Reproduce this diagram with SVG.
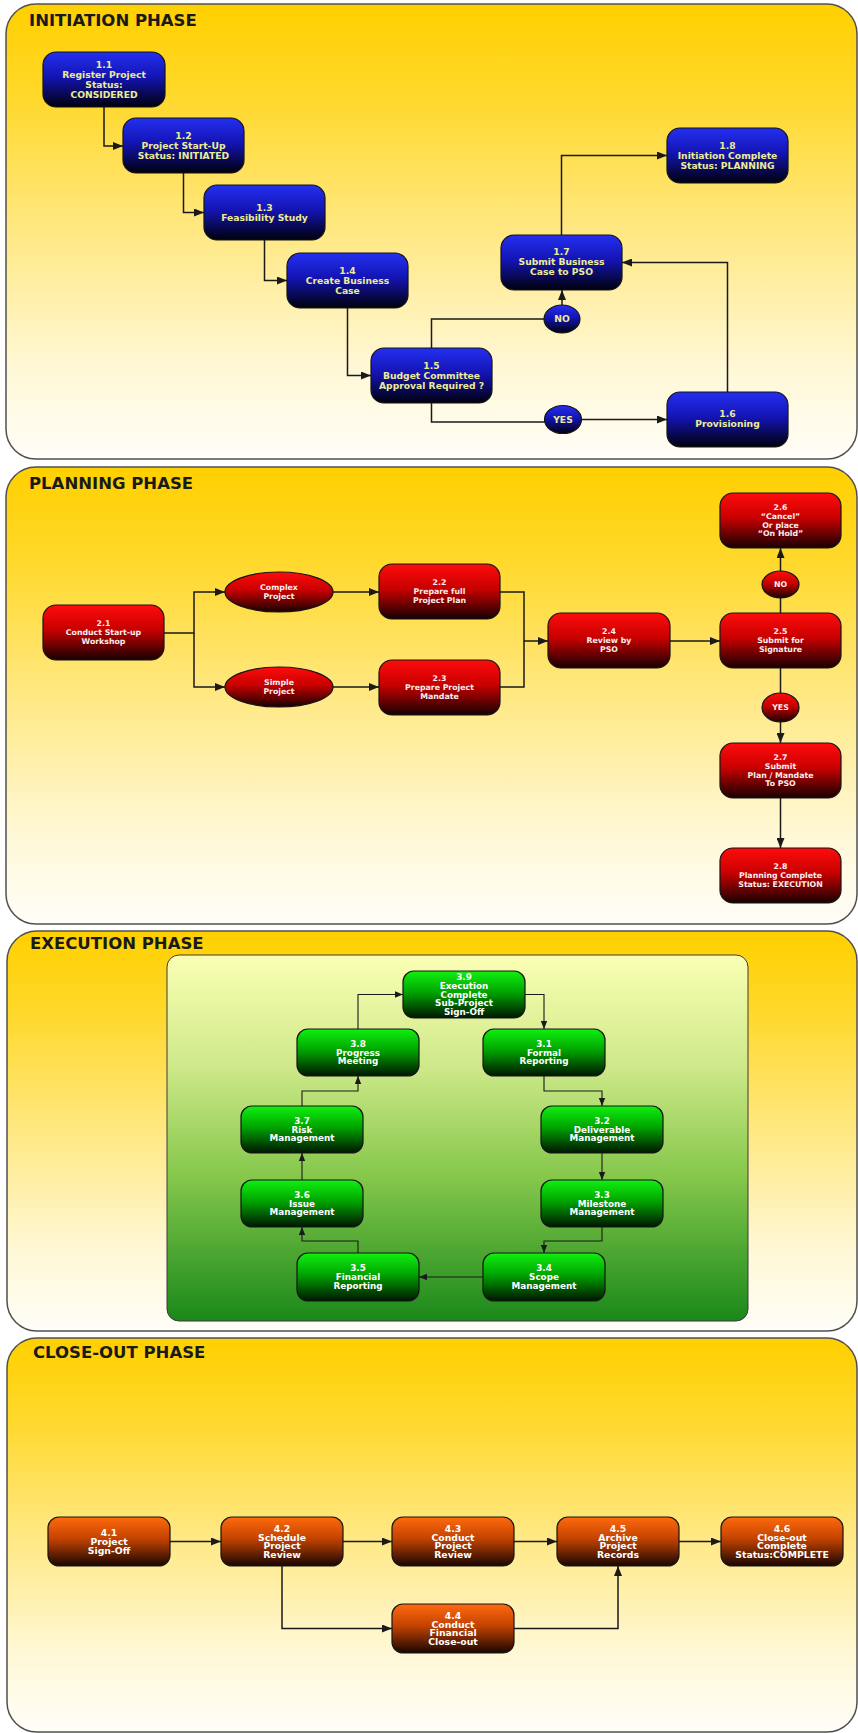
<svg xmlns="http://www.w3.org/2000/svg" width="858" height="1733" viewBox="0 0 858 1733">
<style>
.panel{stroke:#505050;stroke-width:1.5;fill:url(#gPanel)}
.title{font-family:"DejaVu Sans",sans-serif;font-weight:bold;font-size:16.5px;fill:#1a1a1a}
.nb{fill:url(#gBlue);stroke:#151515;stroke-width:1.2}
.nr{fill:url(#gRed);stroke:#151515;stroke-width:1.2}
.ng{fill:url(#gGreen);stroke:#151515;stroke-width:1.2}
.no{fill:url(#gOrange);stroke:#151515;stroke-width:1.2}
.t{font-family:"DejaVu Sans",sans-serif;font-weight:bold;text-anchor:middle}
.tb{font-size:9.2px;fill:#ecec98}
.tr{font-size:7.8px;fill:#fbeeee}
.tg{font-size:8.8px;fill:#ffffff}
.to{font-size:9.3px;fill:#ffffff}
.c{fill:none;stroke:#1a1a1a;stroke-width:1.5}
.cs{fill:none;stroke:#1a1a1a;stroke-width:1.1}
.a{marker-end:url(#ah)}
.as{marker-end:url(#ahs)}
</style>
<defs>
<linearGradient id="gPanel" x1="0" y1="0" x2="0" y2="1">
<stop offset="0" stop-color="#ffd000"/>
<stop offset="0.2" stop-color="#ffd82a"/>
<stop offset="0.5" stop-color="#ffe883"/>
<stop offset="0.8" stop-color="#fff8d6"/>
<stop offset="1" stop-color="#fffef8"/>
</linearGradient>
<linearGradient id="gInner" x1="0" y1="0" x2="0" y2="1">
<stop offset="0" stop-color="#fbffb4"/>
<stop offset="0.3" stop-color="#cfe98a"/>
<stop offset="0.6" stop-color="#86c84c"/>
<stop offset="1" stop-color="#1a881a"/>
</linearGradient>
<linearGradient id="gBlue" x1="0" y1="0" x2="0" y2="1">
<stop offset="0" stop-color="#2430f0"/>
<stop offset="0.45" stop-color="#1414b4"/>
<stop offset="1" stop-color="#00000c"/>
</linearGradient>
<linearGradient id="gRed" x1="0" y1="0" x2="0" y2="1">
<stop offset="0" stop-color="#ff0c0c"/>
<stop offset="0.45" stop-color="#c80000"/>
<stop offset="1" stop-color="#180000"/>
</linearGradient>
<linearGradient id="gGreen" x1="0" y1="0" x2="0" y2="1">
<stop offset="0" stop-color="#10f010"/>
<stop offset="0.45" stop-color="#00a400"/>
<stop offset="1" stop-color="#001600"/>
</linearGradient>
<linearGradient id="gOrange" x1="0" y1="0" x2="0" y2="1">
<stop offset="0" stop-color="#ff6a0e"/>
<stop offset="0.45" stop-color="#c24200"/>
<stop offset="1" stop-color="#180600"/>
</linearGradient>
<marker id="ah" viewBox="0 0 10 8" refX="10" refY="4" markerWidth="11" markerHeight="8" orient="auto" markerUnits="userSpaceOnUse"><path d="M0,0 L10,4 L0,8 z" fill="#1a1a1a"/></marker>
<marker id="ahs" viewBox="0 0 10 8" refX="10" refY="4" markerWidth="8" markerHeight="7" orient="auto" markerUnits="userSpaceOnUse"><path d="M0,0 L10,4 L0,8 z" fill="#1a1a1a"/></marker>
</defs>

<g id="panels">
<rect id="panel-initiation" class="panel" x="6" y="4" width="851" height="455" rx="30"/>
<rect id="panel-planning" class="panel" x="6" y="467" width="851" height="457" rx="30"/>
<rect id="panel-execution" class="panel" x="7" y="931" width="850" height="400" rx="30"/>
<rect id="panel-closeout" class="panel" x="7" y="1338" width="850" height="394" rx="30"/>
<rect id="execution-inner" x="167" y="955" width="581" height="366" rx="12" fill="url(#gInner)" stroke="#3a3a3a" stroke-width="1"/>
<text class="title" x="29" y="26">INITIATION PHASE</text>
<text class="title" x="29" y="489">PLANNING PHASE</text>
<text class="title" x="30" y="949">EXECUTION PHASE</text>
<text class="title" x="33" y="1358">CLOSE-OUT PHASE</text>
</g>

<g id="connectors">
<path class="c a" d="M104,107 V146 H123"/>
<path class="c a" d="M183.5,173 V212.5 H204"/>
<path class="c a" d="M264.5,240 V280.5 H287"/>
<path class="c a" d="M347.5,308 V375.5 H371"/>
<path class="c" d="M431.5,348 V319 H544"/>
<path class="c a" d="M562,305 V290"/>
<path class="c" d="M431.5,403 V422 H545"/>
<path class="c a" d="M581.5,419.5 H667"/>
<path class="c a" d="M727.5,392 V262.5 H622"/>
<path class="c a" d="M561.5,235 V155.5 H667"/>

<path class="c a" d="M164,633 H194 V592 H225"/>
<path class="c a" d="M194,633 V687 H225"/>
<path class="c a" d="M333,592 H379"/>
<path class="c a" d="M333,687 H379"/>
<path class="c a" d="M500,592 H524 V641 H548"/>
<path class="c" d="M500,687 H524 V641"/>
<path class="c a" d="M670,641 H720"/>
<path class="c" d="M780.5,613 V598"/>
<path class="c a" d="M780.5,571 V548"/>
<path class="c" d="M780.5,668 V693"/>
<path class="c a" d="M780.5,722 V743"/>
<path class="c a" d="M780.5,798 V848"/>

<path class="cs as" d="M358,1029 V994.5 H403"/>
<path class="cs as" d="M525,994.5 H544 V1029"/>
<path class="cs as" d="M544,1076 V1091 H602 V1106"/>
<path class="cs as" d="M602,1153 V1180"/>
<path class="cs as" d="M602,1227 V1241 H544 V1253"/>
<path class="cs as" d="M483,1277 H419"/>
<path class="cs as" d="M358,1253 V1241 H302 V1227"/>
<path class="cs as" d="M302,1180 V1153"/>
<path class="cs as" d="M302,1106 V1091 H358 V1076"/>

<path class="c a" d="M170,1541.5 H221"/>
<path class="c a" d="M343,1541.5 H392"/>
<path class="c a" d="M514,1541.5 H557"/>
<path class="c a" d="M679,1541.5 H721"/>
<path class="c a" d="M282,1566 V1628.5 H392"/>
<path class="c a" d="M514,1628.5 H618 V1566"/>
</g>

<g id="n1-1"><rect class="nb" x="43" y="52" width="122" height="55" rx="13"/>
<text class="t tb"><tspan x="104" y="67.7">1.1</tspan><tspan x="104" y="77.7">Register Project</tspan><tspan x="104" y="87.7">Status:</tspan><tspan x="104" y="97.7">CONSIDERED</tspan></text></g>
<g id="n1-2"><rect class="nb" x="123" y="118" width="121" height="55" rx="13"/>
<text class="t tb"><tspan x="183.5" y="138.7">1.2</tspan><tspan x="183.5" y="148.7">Project Start-Up</tspan><tspan x="183.5" y="158.7">Status: INITIATED</tspan></text></g>
<g id="n1-3"><rect class="nb" x="204" y="185" width="121" height="55" rx="13"/>
<text class="t tb"><tspan x="264.5" y="210.7">1.3</tspan><tspan x="264.5" y="220.7">Feasibility Study</tspan></text></g>
<g id="n1-4"><rect class="nb" x="287" y="253" width="121" height="55" rx="13"/>
<text class="t tb"><tspan x="347.5" y="273.7">1.4</tspan><tspan x="347.5" y="283.7">Create Business</tspan><tspan x="347.5" y="293.7">Case</tspan></text></g>
<g id="n1-5"><rect class="nb" x="371" y="348" width="121" height="55" rx="13"/>
<text class="t tb"><tspan x="431.5" y="368.7">1.5</tspan><tspan x="431.5" y="378.7">Budget Committee</tspan><tspan x="431.5" y="388.7">Approval Required ?</tspan></text></g>
<g id="n1-no"><ellipse class="nb" cx="562" cy="319" rx="18" ry="14"/>
<text class="t tb" x="562" y="322.3">NO</text></g>
<g id="n1-yes"><ellipse class="nb" cx="563" cy="419.5" rx="18.5" ry="14"/>
<text class="t tb" x="563" y="422.7">YES</text></g>
<g id="n1-6"><rect class="nb" x="667" y="392" width="121" height="55" rx="13"/>
<text class="t tb"><tspan x="727.5" y="417.2">1.6</tspan><tspan x="727.5" y="427.2">Provisioning</tspan></text></g>
<g id="n1-7"><rect class="nb" x="501" y="235" width="121" height="55" rx="13"/>
<text class="t tb"><tspan x="561.5" y="255.2">1.7</tspan><tspan x="561.5" y="265.2">Submit Business</tspan><tspan x="561.5" y="275.2">Case to PSO</tspan></text></g>
<g id="n1-8"><rect class="nb" x="667" y="128" width="121" height="55" rx="13"/>
<text class="t tb"><tspan x="727.5" y="148.7">1.8</tspan><tspan x="727.5" y="158.7">Initiation Complete</tspan><tspan x="727.5" y="168.7">Status: PLANNING</tspan></text></g>

<g id="n2-1"><rect class="nr" x="43" y="605" width="121" height="55" rx="13"/>
<text class="t tr"><tspan x="103.5" y="626.4">2.1</tspan><tspan x="103.5" y="635.2">Conduct Start-up</tspan><tspan x="103.5" y="644">Workshop</tspan></text></g>
<g id="n2-complex"><ellipse class="nr" cx="279" cy="592" rx="54" ry="20"/>
<text class="t tr"><tspan x="279" y="590.3">Complex</tspan><tspan x="279" y="599.1">Project</tspan></text></g>
<g id="n2-simple"><ellipse class="nr" cx="279" cy="687" rx="54" ry="20"/>
<text class="t tr"><tspan x="279" y="685.3">Simple</tspan><tspan x="279" y="694.1">Project</tspan></text></g>
<g id="n2-2"><rect class="nr" x="379" y="564" width="121" height="55" rx="13"/>
<text class="t tr"><tspan x="439.5" y="585.4">2.2</tspan><tspan x="439.5" y="594.2">Prepare full</tspan><tspan x="439.5" y="603">Project Plan</tspan></text></g>
<g id="n2-3"><rect class="nr" x="379" y="660" width="121" height="55" rx="13"/>
<text class="t tr"><tspan x="439.5" y="681.4">2.3</tspan><tspan x="439.5" y="690.2">Prepare Project</tspan><tspan x="439.5" y="699">Mandate</tspan></text></g>
<g id="n2-4"><rect class="nr" x="548" y="613" width="122" height="55" rx="13"/>
<text class="t tr"><tspan x="609" y="634.4">2.4</tspan><tspan x="609" y="643.2">Review by</tspan><tspan x="609" y="652">PSO</tspan></text></g>
<g id="n2-5"><rect class="nr" x="720" y="613" width="121" height="55" rx="13"/>
<text class="t tr"><tspan x="780.5" y="634.4">2.5</tspan><tspan x="780.5" y="643.2">Submit for</tspan><tspan x="780.5" y="652">Signature</tspan></text></g>
<g id="n2-no"><ellipse class="nr" cx="780.5" cy="584.5" rx="18.5" ry="13.5"/>
<text class="t tr" x="780.5" y="587.2">NO</text></g>
<g id="n2-6"><rect class="nr" x="720" y="493" width="121" height="55" rx="13"/>
<text class="t tr"><tspan x="780.5" y="510">2.6</tspan><tspan x="780.5" y="518.8">“Cancel”</tspan><tspan x="780.5" y="527.6">Or place</tspan><tspan x="780.5" y="536.4">“On Hold”</tspan></text></g>
<g id="n2-yes"><ellipse class="nr" cx="780.5" cy="707.5" rx="18.5" ry="14.5"/>
<text class="t tr" x="780.5" y="710.2">YES</text></g>
<g id="n2-7"><rect class="nr" x="720" y="743" width="121" height="55" rx="13"/>
<text class="t tr"><tspan x="780.5" y="760">2.7</tspan><tspan x="780.5" y="768.8">Submit</tspan><tspan x="780.5" y="777.6">Plan / Mandate</tspan><tspan x="780.5" y="786.4">To PSO</tspan></text></g>
<g id="n2-8"><rect class="nr" x="720" y="848" width="121" height="55" rx="13"/>
<text class="t tr"><tspan x="780.5" y="869.4">2.8</tspan><tspan x="780.5" y="878.2">Planning Complete</tspan><tspan x="780.5" y="887">Status: EXECUTION</tspan></text></g>

<g id="n3-9"><rect class="ng" x="403" y="971" width="122" height="47" rx="11"/>
<text class="t tg"><tspan x="464" y="980.2">3.9</tspan><tspan x="464" y="988.9">Execution</tspan><tspan x="464" y="997.6">Complete</tspan><tspan x="464" y="1006.3">Sub-Project</tspan><tspan x="464" y="1015">Sign-Off</tspan></text></g>
<g id="n3-8"><rect class="ng" x="297" y="1029" width="122" height="47" rx="11"/>
<text class="t tg"><tspan x="358" y="1046.9">3.8</tspan><tspan x="358" y="1055.6">Progress</tspan><tspan x="358" y="1064.3">Meeting</tspan></text></g>
<g id="n3-1"><rect class="ng" x="483" y="1029" width="122" height="47" rx="11"/>
<text class="t tg"><tspan x="544" y="1046.9">3.1</tspan><tspan x="544" y="1055.6">Formal</tspan><tspan x="544" y="1064.3">Reporting</tspan></text></g>
<g id="n3-7"><rect class="ng" x="241" y="1106" width="122" height="47" rx="11"/>
<text class="t tg"><tspan x="302" y="1123.9">3.7</tspan><tspan x="302" y="1132.6">Risk</tspan><tspan x="302" y="1141.3">Management</tspan></text></g>
<g id="n3-2"><rect class="ng" x="541" y="1106" width="122" height="47" rx="11"/>
<text class="t tg"><tspan x="602" y="1123.9">3.2</tspan><tspan x="602" y="1132.6">Deliverable</tspan><tspan x="602" y="1141.3">Management</tspan></text></g>
<g id="n3-6"><rect class="ng" x="241" y="1180" width="122" height="47" rx="11"/>
<text class="t tg"><tspan x="302" y="1197.9">3.6</tspan><tspan x="302" y="1206.6">Issue</tspan><tspan x="302" y="1215.3">Management</tspan></text></g>
<g id="n3-3"><rect class="ng" x="541" y="1180" width="122" height="47" rx="11"/>
<text class="t tg"><tspan x="602" y="1197.9">3.3</tspan><tspan x="602" y="1206.6">Milestone</tspan><tspan x="602" y="1215.3">Management</tspan></text></g>
<g id="n3-5"><rect class="ng" x="297" y="1253" width="122" height="48" rx="11"/>
<text class="t tg"><tspan x="358" y="1271.4">3.5</tspan><tspan x="358" y="1280.1">Financial</tspan><tspan x="358" y="1288.8">Reporting</tspan></text></g>
<g id="n3-4"><rect class="ng" x="483" y="1253" width="122" height="48" rx="11"/>
<text class="t tg"><tspan x="544" y="1271.4">3.4</tspan><tspan x="544" y="1280.1">Scope</tspan><tspan x="544" y="1288.8">Management</tspan></text></g>

<g id="n4-1"><rect class="no" x="48" y="1517" width="122" height="49" rx="11"/>
<text class="t to"><tspan x="109" y="1536.1">4.1</tspan><tspan x="109" y="1544.8">Project</tspan><tspan x="109" y="1553.5">Sign-Off</tspan></text></g>
<g id="n4-2"><rect class="no" x="221" y="1517" width="122" height="49" rx="11"/>
<text class="t to"><tspan x="282" y="1531.8">4.2</tspan><tspan x="282" y="1540.5">Schedule</tspan><tspan x="282" y="1549.2">Project</tspan><tspan x="282" y="1557.9">Review</tspan></text></g>
<g id="n4-3"><rect class="no" x="392" y="1517" width="122" height="49" rx="11"/>
<text class="t to"><tspan x="453" y="1531.8">4.3</tspan><tspan x="453" y="1540.5">Conduct</tspan><tspan x="453" y="1549.2">Project</tspan><tspan x="453" y="1557.9">Review</tspan></text></g>
<g id="n4-5"><rect class="no" x="557" y="1517" width="122" height="49" rx="11"/>
<text class="t to"><tspan x="618" y="1531.8">4.5</tspan><tspan x="618" y="1540.5">Archive</tspan><tspan x="618" y="1549.2">Project</tspan><tspan x="618" y="1557.9">Records</tspan></text></g>
<g id="n4-6"><rect class="no" x="721" y="1517" width="122" height="49" rx="11"/>
<text class="t to"><tspan x="782" y="1531.8">4.6</tspan><tspan x="782" y="1540.5">Close-out</tspan><tspan x="782" y="1549.2">Complete</tspan><tspan x="782" y="1557.9">Status:COMPLETE</tspan></text></g>
<g id="n4-4"><rect class="no" x="392" y="1604" width="122" height="49" rx="11"/>
<text class="t to"><tspan x="453" y="1618.8">4.4</tspan><tspan x="453" y="1627.5">Conduct</tspan><tspan x="453" y="1636.2">Financial</tspan><tspan x="453" y="1644.9">Close-out</tspan></text></g>
</svg>
